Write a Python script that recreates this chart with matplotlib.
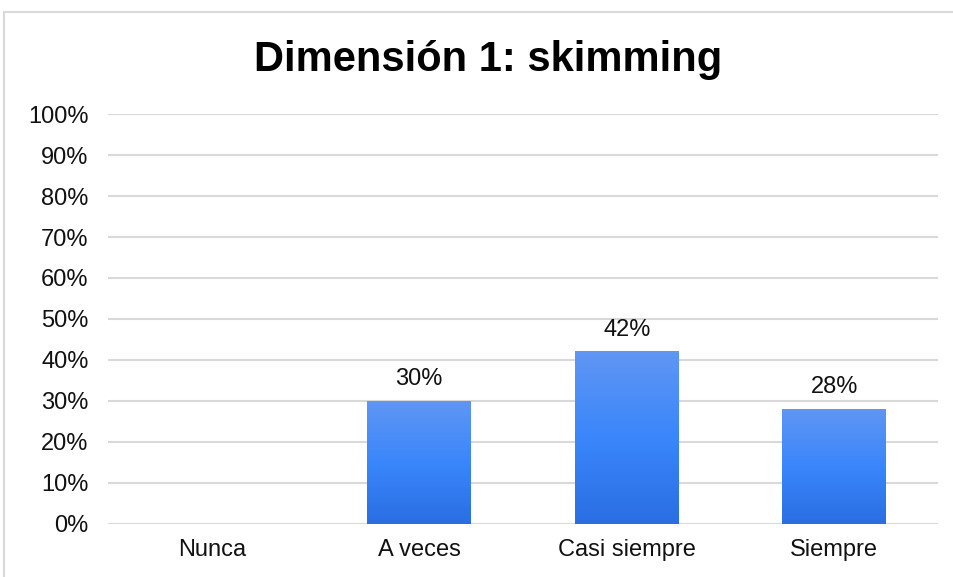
import matplotlib.pyplot as plt
import numpy as np
from matplotlib.patches import Rectangle
from matplotlib.colors import LinearSegmentedColormap

categories = ['Nunca', 'A veces', 'Casi siempre', 'Siempre']
values = [0, 30, 42, 28]
yticks = list(range(0, 101, 10))

plt.rcParams['font.family'] = ['Liberation Sans', 'DejaVu Sans']

fig = plt.figure(figsize=(9.54, 5.77), dpi=100)
ax = fig.add_axes([0.1132, 0.0919, 0.87, 0.7105])

# outer chart frame (only top and left visible)
fig.patches.append(Rectangle((4.5 / 954, -0.1), 1.2, 1.1 - 11.5 / 577,
                             transform=fig.transFigure, fill=False,
                             edgecolor='#d9d9d9', linewidth=1.5))

# vertical blue gradient for the bars
cmap = LinearSegmentedColormap.from_list(
    'bar', ['#2a6ee2', '#3a86fb', '#6096f4'])
grad = np.linspace(0, 1, 256).reshape(-1, 1)

width = 0.5
for i, v in enumerate(values):
    if v <= 0:
        continue
    ax.imshow(grad, cmap=cmap, origin='lower', aspect='auto',
              extent=[i - width / 2, i + width / 2, 0, v], zorder=3)
    ax.annotate(f'{v}%', (i, v), xytext=(0, 8), textcoords='offset points',
                ha='center', va='bottom', fontsize=17, color='#111111')

ax.set_xlim(-0.5, len(categories) - 0.5)
ax.set_ylim(0, 100)
ax.set_yticks(yticks)
ax.set_yticklabels([f'{t}%' for t in yticks])
ax.set_xticks(range(len(categories)))
ax.set_xticklabels(categories)
ax.tick_params(axis='both', length=0, labelsize=17, colors='#111111')
ax.tick_params(axis='y', pad=14)
ax.tick_params(axis='x', pad=11)
ax.grid(axis='y', color='#d9d9d9', linewidth=1.5, zorder=0)
ax.set_axisbelow(True)
for s in ax.spines.values():
    s.set_visible(False)

fig.text(0.512, 1 - 60 / 577, 'Dimensión 1: skimming', ha='center', va='center',
         fontsize=30, fontweight='bold', color='#000000')

fig.savefig('out.png', dpi=100)
